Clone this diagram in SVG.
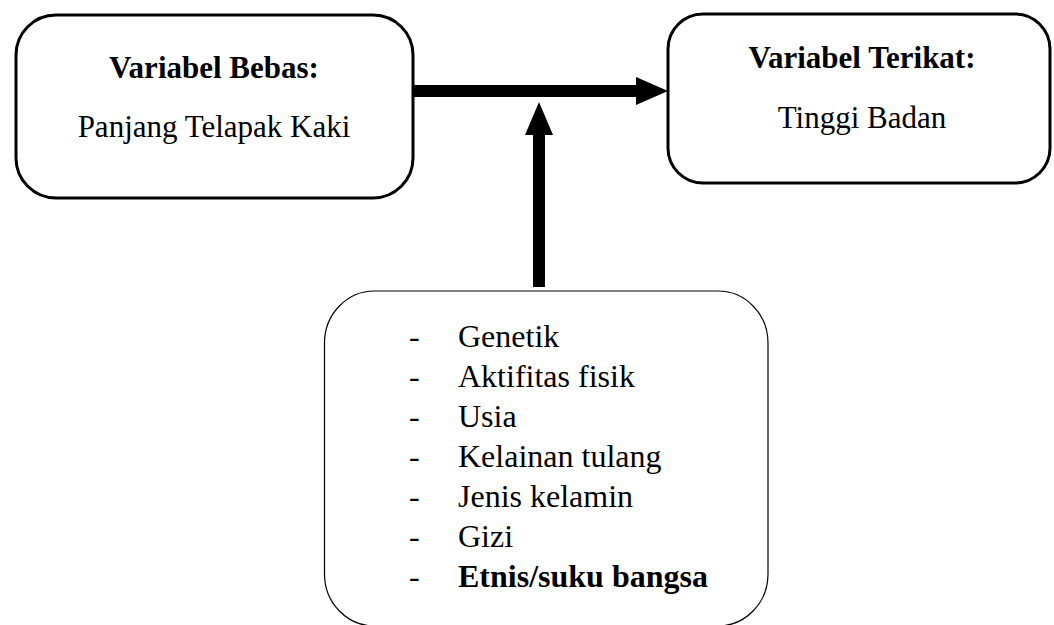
<svg xmlns="http://www.w3.org/2000/svg" width="1054" height="625" viewBox="0 0 1054 625">
<style>
.box{fill:#fff;stroke:#000;stroke-width:3}
.thin{fill:#fff;stroke:#000;stroke-width:1.2}
.t{font-size:31px;font-weight:bold;text-anchor:middle}
.s{font-size:31px;font-weight:normal;text-anchor:middle}
.l{font-size:32px;font-weight:normal}
.b{font-weight:bold}
</style>
<rect width="1054" height="625" fill="#fff"/>
<g font-family="'Liberation Serif', 'Times New Roman', Times, serif" fill="#000">
<g id="node-bebas">
<rect class="box" x="16" y="15" width="397" height="183" rx="40" ry="40"/>
<text class="t" x="214" y="78">Variabel Bebas:</text>
<text class="s" x="214" y="137">Panjang Telapak Kaki</text>
</g>
<g id="node-terikat">
<rect class="box" x="668" y="14" width="382" height="169" rx="35" ry="35"/>
<text class="t" x="862" y="68">Variabel Terikat:</text>
<text class="s" x="862" y="128">Tinggi Badan</text>
</g>
<g id="node-faktor">
<rect class="thin" x="324.5" y="291" width="443.5" height="335" rx="50" ry="52"/>
<g class="l">
<text x="409" y="347">-</text><text x="458" y="347">Genetik</text>
<text x="409" y="387">-</text><text x="458" y="387">Aktifitas fisik</text>
<text x="409" y="427">-</text><text x="458" y="427">Usia</text>
<text x="409" y="467">-</text><text x="458" y="467">Kelainan tulang</text>
<text x="409" y="507">-</text><text x="458" y="507">Jenis kelamin</text>
<text x="409" y="547">-</text><text x="458" y="547">Gizi</text>
<text x="409" y="587">-</text><text class="b" x="458" y="587">Etnis/suku bangsa</text>
</g>
</g>
</g>
<g id="connectors" fill="#000">
<path d="M413 85 H636 V77 L668 91 L636 105 V97 H413 Z"/>
<path d="M533 287 V135 H525 L539 102 L553 135 H545 V287 Z"/>
</g>
</svg>
